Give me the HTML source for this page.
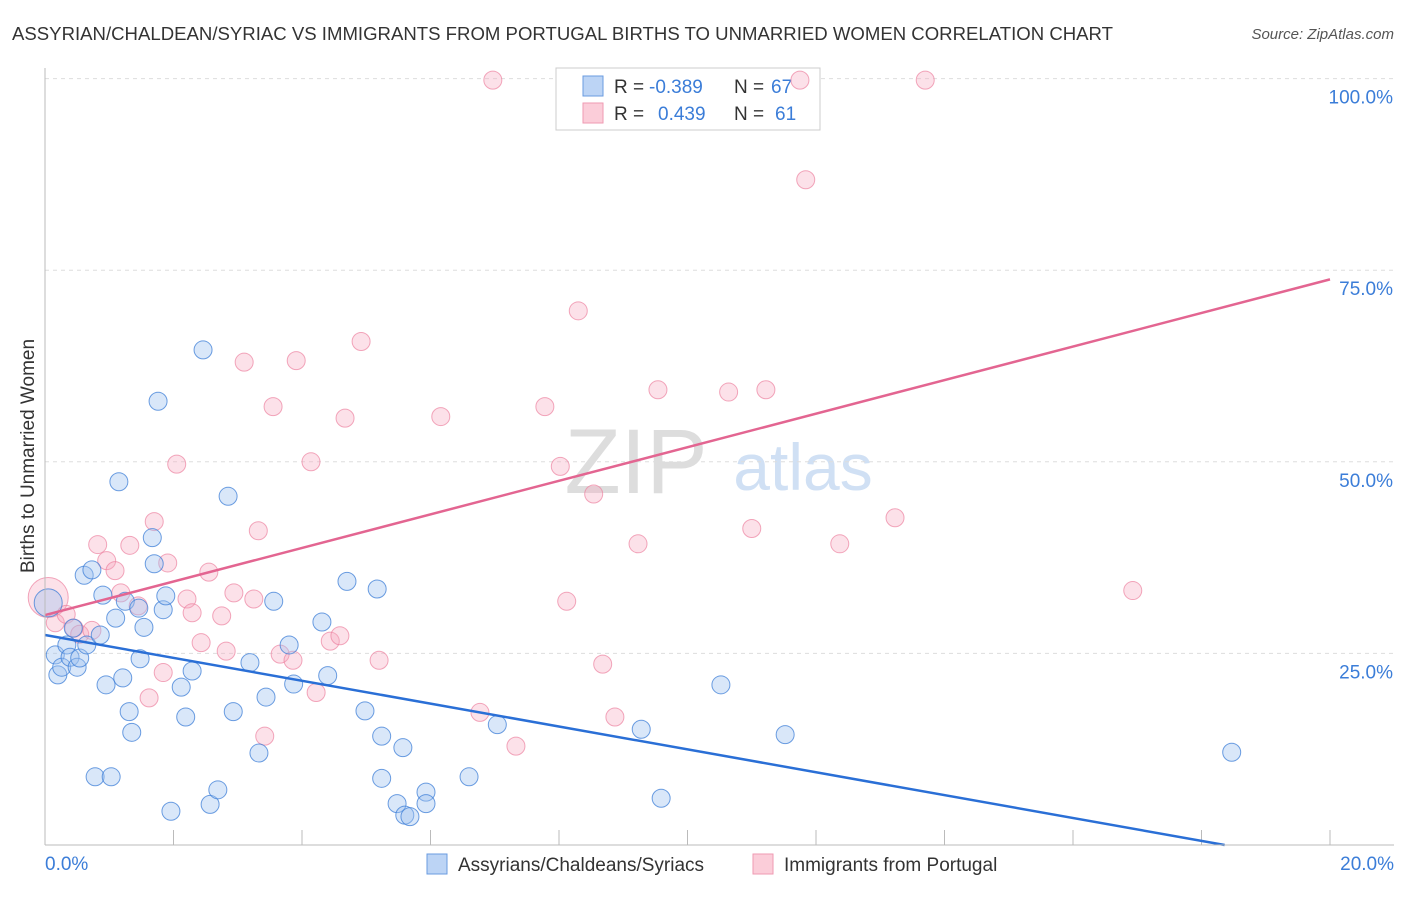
<!DOCTYPE html>
<html><head><meta charset="utf-8"><style>
body{margin:0;background:#fff;font-family:"Liberation Sans",sans-serif}
svg text{font-family:"Liberation Sans",sans-serif}
</style></head><body>
<svg id="c" width="1406" height="892">
<text x="12" y="40" font-size="18" fill="#333" textLength="1101" lengthAdjust="spacingAndGlyphs">ASSYRIAN/CHALDEAN/SYRIAC VS IMMIGRANTS FROM PORTUGAL BIRTHS TO UNMARRIED WOMEN CORRELATION CHART</text>
<text x="1394" y="39" font-size="15" fill="#555" text-anchor="end" font-style="italic">Source: ZipAtlas.com</text>
<text x="34" y="456" font-size="19" fill="#333" text-anchor="middle" transform="rotate(-90 34 456)">Births to Unmarried Women</text>
<text x="636" y="493" font-size="92" fill="#ddd" font-family="Liberation Serif" text-anchor="middle">ZIP</text>
<text x="803" y="490" font-size="66" fill="#d0e0f4" text-anchor="middle">atlas</text>
<g id="grid"></g>
<g>
<rect x="556" y="68" width="264" height="62" fill="#fff" stroke="#ccc"/>
<rect x="583" y="76" width="20" height="20" fill="#bcd4f5" stroke="#6a9be0"/>
<rect x="583" y="103" width="20" height="20" fill="#fbcdd9" stroke="#ef9ab2"/>
<text x="614" y="93" font-size="19" fill="#333">R =</text>
<text x="649" y="93" font-size="19" fill="#3b7dd8">-0.389</text>
<text x="734" y="93" font-size="19" fill="#333">N =</text>
<text x="771" y="93" font-size="19" fill="#3b7dd8">67</text>
<text x="614" y="120" font-size="19" fill="#333">R =</text>
<text x="658" y="120" font-size="19" fill="#3b7dd8">0.439</text>
<text x="734" y="120" font-size="19" fill="#333">N =</text>
<text x="775" y="120" font-size="19" fill="#3b7dd8">61</text>
</g>
<g id="pts"></g><g id="lines"></g>
<line x1="45" y1="68" x2="45" y2="845" stroke="#bbb"/>
<line x1="45" y1="845" x2="1394" y2="845" stroke="#bbb"/>
<text x="45" y="870" font-size="19" fill="#3b7dd8">0.0%</text>
<text x="1394" y="870" font-size="19" fill="#3b7dd8" text-anchor="end">20.0%</text>
<g>
<rect x="427" y="854" width="20" height="20" fill="#bcd4f5" stroke="#6a9be0"/>
<text x="458" y="871" font-size="19" fill="#333">Assyrians/Chaldeans/Syriacs</text>
<rect x="753" y="854" width="20" height="20" fill="#fbcdd9" stroke="#ef9ab2"/>
<text x="784" y="871" font-size="19" fill="#333">Immigrants from Portugal</text>
</g>
</svg>
<script>
const yTicks=[25,50,75,100];
const yTickLabels=["25.0%","50.0%","75.0%","100.0%"];
const xTicks=[2,4,6,8,10,12,14,16,18,20];
const blueX=[0.05,0.16,0.2,0.26,0.34,0.39,0.44,0.5,0.54,0.61,0.65,0.73,0.78,0.86,0.9,0.95,1.03,1.1,1.15,1.21,1.25,1.31,1.35,1.46,1.48,1.54,1.67,1.7,1.76,1.84,1.88,1.96,2.12,2.19,2.29,2.46,2.57,2.69,2.85,2.93,3.19,3.33,3.44,3.56,3.8,3.87,4.31,4.4,4.7,4.98,5.17,5.24,5.24,5.48,5.57,5.6,5.68,5.93,5.93,6.6,7.04,9.28,9.59,10.52,11.52,18.47];
const blueY=[31.6,24.8,22.2,23.2,26.1,24.5,28.3,23.2,24.4,35.2,26.1,35.9,8.9,27.4,32.6,20.9,8.9,29.6,47.4,21.8,31.8,17.4,14.7,30.9,24.3,28.4,40.1,36.7,57.9,30.7,32.5,4.4,20.6,16.7,22.7,64.6,5.3,7.2,45.5,17.4,23.8,12.0,19.3,31.8,26.1,21.0,29.1,22.1,34.4,17.5,33.4,14.2,8.7,5.4,12.7,3.9,3.7,6.9,5.4,8.9,15.7,15.1,6.1,20.9,14.4,12.1];
const pinkX=[0.05,0.16,0.33,0.45,0.54,0.73,0.82,0.96,1.09,1.18,1.32,1.45,1.62,1.7,1.84,1.91,2.05,2.21,2.29,2.43,2.55,2.75,2.82,2.94,3.1,3.25,3.32,3.42,3.55,3.66,3.86,3.91,4.14,4.22,4.44,4.59,4.67,4.92,5.2,6.16,6.77,6.97,7.33,7.78,8.02,8.12,8.3,8.54,8.68,8.87,9.23,9.54,10.64,11.0,11.22,11.75,11.84,12.37,13.23,13.7,16.93];
const pinkY=[32.3,29.0,30.1,28.3,27.5,28.0,39.2,37.1,35.8,32.9,39.1,31.2,19.2,42.2,22.5,36.8,49.7,32.1,30.3,26.4,35.6,29.9,25.3,32.9,63.0,32.1,41.0,14.2,57.2,24.9,24.1,63.2,50.0,19.9,26.6,27.3,55.7,65.7,24.1,55.9,17.3,99.8,12.9,57.2,49.4,31.8,69.7,45.8,23.6,16.7,39.3,59.4,59.1,41.3,59.4,99.8,86.8,39.3,42.7,99.8,33.2];
const blueFit=[27.4,0];
const blueFitEnd=18.36;
const pinkFit=[30.0,73.8];
const X=v=>45+v/20*1285, Y=v=>845-v/100*766.4;
const ns="http://www.w3.org/2000/svg";
const g=document.getElementById('grid'),p=document.getElementById('pts'),l=document.getElementById('lines');
function mk(tag,at,par){const e=document.createElementNS(ns,tag);for(const k in at)e.setAttribute(k,at[k]);par.appendChild(e);return e;}
yTicks.forEach((t,i)=>{
 const ln=mk('line',{x1:45,x2:1394,y1:Y(t),y2:Y(t),stroke:'#ddd','stroke-dasharray':'4,4'},g);
 
 
 const tx=mk('text',{x:1393,y:Y(t)+25,'font-size':19,fill:'#3b7dd8','text-anchor':'end'},g);
 tx.textContent=yTickLabels[i];
 
 
});
xTicks.forEach(t=>{
 const ln=mk('line',{x1:X(t),x2:X(t),y1:830,y2:845,stroke:'#bbb'},g);
 
 
});
pinkX.forEach((x,i)=>{
 const c=mk('circle',{cx:X(x),cy:Y(pinkY[i]),r:i==0?20:9,fill:'rgba(246,170,192,0.35)',stroke:'rgba(236,130,160,0.7)','stroke-width':1},p);
 
 
});
blueX.forEach((x,i)=>{
 const c=mk('circle',{cx:X(x),cy:Y(blueY[i]),r:i==0?14:9,fill:'rgba(160,195,240,0.4)',stroke:'rgba(60,125,215,0.75)','stroke-width':1},p);
 
 
});
const bl=mk('line',{x1:X(0),y1:Y(blueFit[0]),x2:X(blueFitEnd),y2:Y(blueFit[1]),stroke:'#2a6fd6','stroke-width':2.5},l);


const pl=mk('line',{x1:X(0),y1:Y(pinkFit[0]),x2:X(20),y2:Y(pinkFit[1]),stroke:'#e36591','stroke-width':2.5},l);


</script>
</body></html>
